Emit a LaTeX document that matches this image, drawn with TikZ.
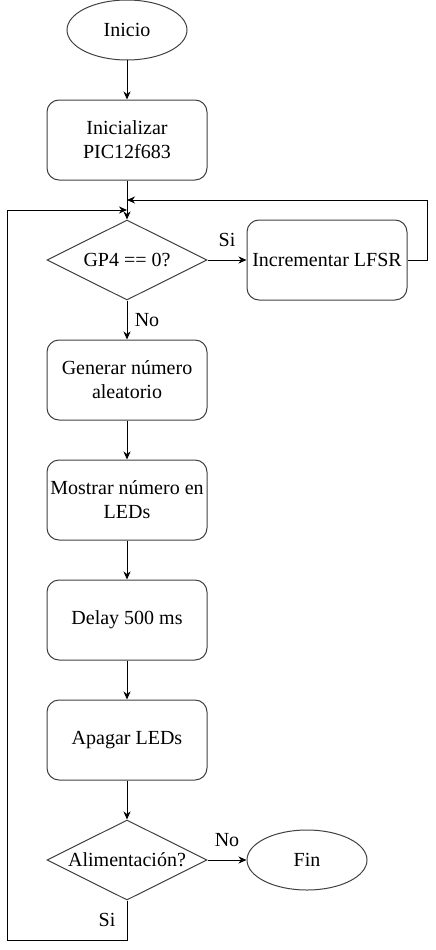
\documentclass[tikz,border=0pt]{standalone}
\usepackage{fontspec}
\setmainfont{Liberation Serif}
\usetikzlibrary{shapes.geometric,arrows.meta}
\begin{document}
\begin{tikzpicture}[x=1pt,y=-1pt,
  every node/.style={font=\fontsize{20pt}{24pt}\selectfont, text=black},
  shp/.style={draw=black!75, line width=1pt},
  procbox/.style={shp, rectangle, rounded corners=12pt, minimum width=160pt, minimum height=80pt, inner sep=0pt, align=center},
  term/.style={shp, ellipse, minimum width=120pt, minimum height=60pt, inner sep=0pt},
  decision/.style={shp, diamond, minimum width=160pt, minimum height=80pt, inner sep=0pt},
  conn/.style={line width=1pt, draw=black},
  arr/.style={conn, -{Stealth[length=8pt,width=7pt,inset=2.5pt]}},
  lbl/.style={inner sep=0pt}
]
\useasboundingbox (0,0) rectangle (436,950);

\node[term] (inicio) at (127,30) {Inicio};
\node[procbox] (init) at (127,140) {Inicializar\\PIC12f683};
\node[decision] (gp4) at (127,260) {\makebox[0pt]{GP4 == 0?}};
\node[procbox] (lfsr) at (327,260) {Incrementar LFSR};
\node[procbox] (gen) at (127,380) {Generar número\\aleatorio};
\node[procbox] (most) at (127,500) {Mostrar número en\\LEDs};
\node[procbox] (delay) at (127,620) {Delay 500 ms};
\node[procbox] (apag) at (127,740) {Apagar LEDs};
\node[decision] (alim) at (127,860) {\makebox[0pt]{Alimentación?}};
\node[term] (fin) at (307,860) {Fin};

\coordinate (j1) at (127,200);
\coordinate (j2) at (127,210);
\coordinate (r1) at (427,260);
\coordinate (c1) at (127,940);
\coordinate (c2) at (7,940);

\draw[arr] (inicio) -- (init);
\draw[arr] (init) -- (gp4);
\draw[arr] (gp4) -- node[lbl, yshift=20pt]{Si} (lfsr);
\draw[arr] (lfsr.east) -- (r1) |- (j1);
\draw[arr] (gp4) -- node[lbl, xshift=20pt]{No} (gen);
\draw[arr] (gen) -- (most);
\draw[arr] (most) -- (delay);
\draw[arr] (delay) -- (apag);
\draw[arr] (apag) -- (alim);
\draw[arr] (alim) -- node[lbl, yshift=20pt]{No} (fin);
\draw[arr] (alim.south) -- node[lbl, xshift=-20pt]{Si} (c1) -- (c2) |- (j2);
\end{tikzpicture}
\end{document}
